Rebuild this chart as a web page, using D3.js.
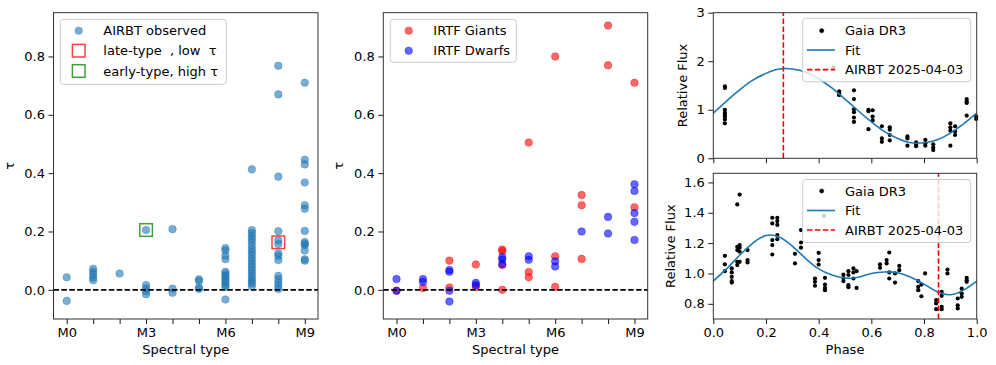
<!DOCTYPE html>
<html>
<head>
<meta charset="utf-8">
<script src="https://cdn.jsdelivr.net/npm/d3@7"></script>
<style>
  body { margin: 0; background: #fff; }
  svg { display: block; }
  text { font-family: "DejaVu Sans", sans-serif; fill: #000; }
</style>
</head>
<body>
<svg id="fig"></svg>
<script>
const W = 996, H = 365, FS = 13;

// spectral subtypes (index = subtype number)
const spTypes = ["M0", "M1", "M2", "M3", "M4", "M5", "M6", "M7", "M8", "M9"];
const spLabelled = [0, 3, 6, 9];

// AIRBT observed tau, one list per subtype
const airbtTau = [
  [0.043, -0.038],
  [0.072, 0.062, 0.052, 0.042, 0.033],
  [0.056],
  [0.205, 0.016, 0.005, -0.005, -0.015],
  [0.208, 0.004, -0.01],
  [0.036, 0.03, 0.008, 0.003],
  [0.143, 0.135, 0.117, 0.105, 0.062, 0.055, 0.047, 0.04, 0.032, 0.024, 0.016, 0.01, -0.033],
  [0.413, 0.205, 0.195, 0.185, 0.175, 0.165, 0.152, 0.14, 0.13, 0.12, 0.108, 0.098, 0.088, 0.078, 0.068, 0.058, 0.048, 0.038, 0.03, 0.022, 0.012],
  [0.768, 0.67, 0.388, 0.201, 0.17, 0.157, 0.125, 0.116, 0.102, 0.048, 0.037, 0.025, 0.013, 0.003],
  [0.71, 0.446, 0.43, 0.368, 0.29, 0.278, 0.202, 0.164, 0.158, 0.153, 0.135, 0.105, 0.1]
];
// highlighted objects [subtype, tau]
const lateLow = [8, 0.163];
const earlyHigh = [3, 0.205];

// IRTF library tau, one list per subtype
const giantsTau = [
  [-0.003], [0.006], [0.1, 0.008], [0.087, 0.01], [0.138, 0.133, 0.085, 0.0],
  [0.505, 0.061, 0.043], [0.8, 0.115, 0.01], [0.325, 0.29, 0.106], [0.906, 0.77], [0.71, 0.283]
];
const dwarfsTau = [
  [0.037, -0.003], [0.037, 0.027], [0.068, 0.062, -0.003, -0.04], [0.024, 0.016], [0.112, 0.104, 0.088],
  [0.115, 0.103], [0.098, 0.08], [0.2], [0.25, 0.193], [0.362, 0.339, 0.263, 0.233, 0.171]
];

// Gaia DR3 phase-folded light curves [phase, relative flux]
const gaiaTop = [
  [0.044, 1.48], [0.044, 1.45], [0.044, 1.0], [0.044, 0.94], [0.044, 0.9], [0.044, 0.86], [0.044, 0.8], [0.044, 0.72],
  [0.456, 1.87],
  [0.478, 1.38], [0.478, 1.33], [0.478, 1.3],
  [0.534, 1.4], [0.534, 1.22], [0.534, 1.01], [0.534, 0.95], [0.534, 0.84], [0.534, 0.75],
  [0.589, 1.0], [0.589, 0.97], [0.589, 0.6],
  [0.605, 0.99], [0.605, 0.86], [0.605, 0.78],
  [0.64, 0.66], [0.64, 0.41], [0.64, 0.34],
  [0.67, 0.64], [0.67, 0.59], [0.67, 0.48], [0.67, 0.37],
  [0.737, 0.45], [0.737, 0.41], [0.737, 0.26],
  [0.77, 0.33], [0.77, 0.29], [0.77, 0.25],
  [0.805, 0.38], [0.805, 0.31], [0.805, 0.26],
  [0.835, 0.29], [0.835, 0.22], [0.835, 0.17],
  [0.9, 0.72], [0.9, 0.64], [0.9, 0.57], [0.9, 0.26],
  [0.918, 0.66], [0.918, 0.55], [0.918, 0.48],
  [0.962, 1.22], [0.962, 1.17], [0.962, 1.14], [0.962, 0.88],
  [0.998, 0.86], [0.998, 0.81]
];
const gaiaBot = [
  [0.044, 1.116], [0.044, 1.06], [0.044, 1.015],
  [0.07, 1.033], [0.07, 1.007], [0.07, 0.978], [0.07, 0.95], [0.07, 0.94],
  [0.091, 1.455], [0.091, 1.176], [0.091, 1.154], [0.091, 1.077], [0.091, 1.055],
  [0.1, 1.52], [0.1, 1.187], [0.1, 1.17], [0.1, 1.143], [0.1, 1.077],
  [0.13, 1.154], [0.13, 1.088], [0.13, 1.073],
  [0.224, 1.367], [0.224, 1.33], [0.224, 1.22], [0.224, 1.187], [0.224, 1.125],
  [0.243, 1.367], [0.243, 1.345], [0.243, 1.32], [0.243, 1.253], [0.243, 1.226],
  [0.31, 1.13], [0.31, 1.066],
  [0.333, 1.286], [0.333, 1.204], [0.333, 1.17],
  [0.386, 0.967], [0.386, 0.945], [0.386, 0.919],
  [0.4, 1.136], [0.4, 1.088], [0.4, 1.059],
  [0.42, 1.38],
  [0.424, 0.971], [0.424, 0.927], [0.424, 0.905], [0.424, 0.89],
  [0.494, 0.993], [0.494, 0.97], [0.494, 0.95],
  [0.513, 1.015], [0.513, 0.99], [0.513, 0.923], [0.513, 0.91],
  [0.532, 1.033], [0.532, 1.007], [0.532, 0.967],
  [0.544, 1.015], [0.544, 0.905],
  [0.633, 1.06], [0.633, 1.037],
  [0.658, 1.088], [0.658, 1.066],
  [0.668, 1.138], [0.668, 1.007], [0.668, 0.967],
  [0.69, 1.0], [0.69, 0.94],
  [0.706, 1.05], [0.706, 1.022],
  [0.778, 0.95], [0.778, 0.912], [0.778, 0.89],
  [0.79, 0.927], [0.79, 0.85],
  [0.804, 1.0],
  [0.846, 0.824], [0.846, 0.802], [0.846, 0.765],
  [0.867, 0.879], [0.867, 0.853], [0.867, 0.78], [0.867, 0.765],
  [0.889, 1.026], [0.889, 1.0],
  [0.928, 0.835], [0.928, 0.79], [0.928, 0.77],
  [0.943, 0.9], [0.943, 0.868], [0.943, 0.846],
  [0.962, 0.971], [0.962, 0.956], [0.962, 0.945]
];

// fitted curves
const fitPhase = [0, 0.05, 0.1, 0.15, 0.2, 0.25, 0.3, 0.35, 0.4, 0.45, 0.5, 0.55, 0.6, 0.65, 0.7, 0.75, 0.8, 0.85, 0.9, 0.95, 1.0];
const fitTop = [0.93, 1.18, 1.41, 1.61, 1.75, 1.84, 1.84, 1.78, 1.64, 1.45, 1.22, 0.98, 0.75, 0.55, 0.41, 0.32, 0.32, 0.38, 0.52, 0.71, 0.93];
const fitBot = [0.95, 1.03, 1.12, 1.2, 1.25, 1.24, 1.18, 1.1, 1.03, 0.99, 0.97, 0.975, 1.0, 1.01, 1.005, 0.975, 0.93, 0.88, 0.86, 0.89, 0.95];
const airbtPhaseTop = 0.266, airbtPhaseBot = 0.855;
const airbtLabel = "AIRBT 2025-04-03";

const svg = d3.select("#fig").attr("width", W).attr("height", H);

// axes frame + ticks
function axes(xs, ys, o) {
  const [x0] = xs.range(), [y0] = ys.range();
  const g = svg.append("g");
  const ax = g.append("g").attr("transform", `translate(0,${y0})`)
    .call(d3.axisBottom(xs).tickValues(o.xt).tickFormat(o.xf).tickSize(5).tickPadding(3.5));
  const ay = g.append("g").attr("transform", `translate(${x0},0)`)
    .call(d3.axisLeft(ys).tickValues(o.yt).tickFormat(o.yf).tickSize(5).tickPadding(3.5));
  [ax, ay].forEach(a => {
    a.select(".domain").remove();
    a.selectAll("line").attr("stroke", "#000").attr("stroke-width", 0.9);
    a.selectAll("text").attr("font-size", FS).attr("font-family", "DejaVu Sans");
  });
  return g;
}
function spines(xs, ys) {
  const [x0, x1] = xs.range(), [y0, y1] = ys.range();
  svg.append("rect").attr("x", x0).attr("y", y1).attr("width", x1 - x0).attr("height", y0 - y1)
    .attr("fill", "none").attr("stroke", "#333").attr("stroke-width", 1);
}
function yLabel(txt, x, ys, size) {
  const [y0, y1] = ys.range();
  svg.append("text").attr("transform", `translate(${x},${(y0 + y1) / 2}) rotate(-90)`)
    .attr("text-anchor", "middle").attr("font-size", size || FS).text(txt);
}
function xLabel(txt, xs, y) {
  const [x0, x1] = xs.range();
  svg.append("text").attr("x", (x0 + x1) / 2).attr("y", y).attr("text-anchor", "middle")
    .attr("font-size", FS).text(txt);
}
function legend(x, y, w, h, rows) {
  const g = svg.append("g");
  g.append("rect").attr("x", x).attr("y", y).attr("width", w).attr("height", h).attr("rx", 3)
    .attr("fill", "#fff").attr("fill-opacity", 0.8).attr("stroke", "#ccc").attr("stroke-width", 1);
  rows.forEach(r => {
    const mx = x + r.mx, my = y + r.dy;
    if (r.type === "dot") g.append("circle").attr("cx", mx).attr("cy", my).attr("r", r.r)
      .attr("fill", r.color).attr("fill-opacity", r.op).attr("stroke", r.color).attr("stroke-opacity", r.op * 0.5);
    if (r.type === "sq") g.append("rect").attr("x", mx - 6.3).attr("y", my - 6.3).attr("width", 12.6).attr("height", 12.6)
      .attr("fill", "none").attr("stroke", r.color).attr("stroke-opacity", 0.75).attr("stroke-width", 1.5);
    if (r.type === "line" || r.type === "dash") g.append("line").attr("x1", mx - 14).attr("x2", mx + 14)
      .attr("y1", my).attr("y2", my).attr("stroke", r.color).attr("stroke-width", 1.6)
      .attr("stroke-dasharray", r.type === "dash" ? "5.5,2.4" : null);
    g.append("text").attr("x", x + r.tx).attr("y", my).attr("dy", "0.36em").attr("font-size", FS)
      .style("white-space", "pre").text(r.label);
  });
}
const flat = arr => arr.flatMap((vals, i) => vals.map(v => [i, v]));

// ---------- left and middle panels ----------
const yTau = d3.scaleLinear().domain([-0.1, 0.95]).range([319, 12.7]);
const tauTicks = [0, 0.2, 0.4, 0.6, 0.8];
const spAxis = {
  xt: d3.range(spTypes.length), xf: i => spLabelled.includes(i) ? spTypes[i] : "",
  yt: tauTicks, yf: d3.format(".1f")
};

function tauPanel(x0, x1, series, boxes) {
  const xs = d3.scaleLinear().domain([-0.5, 9.5]).range([x0, x1]);
  axes(xs, yTau, spAxis);
  series.forEach(s => {
    svg.append("g").selectAll("circle").data(flat(s.data)).join("circle")
      .attr("cx", d => xs(d[0])).attr("cy", d => yTau(d[1])).attr("r", 3.8)
      .attr("fill", s.color).attr("fill-opacity", 0.6)
      .attr("stroke", s.color).attr("stroke-opacity", 0.35).attr("stroke-width", 1);
  });
  svg.append("line").attr("x1", x0).attr("x2", x1).attr("y1", yTau(0)).attr("y2", yTau(0))
    .attr("stroke", "#000").attr("stroke-width", 1.8).attr("stroke-dasharray", "5.5,2.4");
  (boxes || []).forEach(b => {
    svg.append("rect").attr("x", xs(b.p[0]) - 6.3).attr("y", yTau(b.p[1]) - 6.3)
      .attr("width", 12.6).attr("height", 12.6).attr("fill", "none")
      .attr("stroke", b.color).attr("stroke-opacity", 0.75).attr("stroke-width", 1.5);
  });
  spines(xs, yTau);
  yLabel("τ", x0 - 40, yTau);
  xLabel("Spectral type", xs, 354);
  return xs;
}

tauPanel(53.5, 318, [{ data: airbtTau, color: "#1f77b4" }],
  [{ p: lateLow, color: "red" }, { p: earlyHigh, color: "green" }]);
legend(60.3, 19.3, 166, 65, [
  { type: "dot", color: "#1f77b4", op: 0.6, r: 3.8, mx: 18.4, tx: 43, dy: 11.4, label: "AIRBT observed" },
  { type: "sq", color: "red", mx: 18.4, tx: 43, dy: 31.4, label: "late-type  , low  τ" },
  { type: "sq", color: "green", mx: 18.4, tx: 43, dy: 51.7, label: "early-type, high τ" }
]);

tauPanel(383.3, 647.7, [{ data: giantsTau, color: "red" }, { data: dwarfsTau, color: "blue" }]);
legend(390.3, 19.3, 126, 43, [
  { type: "dot", color: "red", op: 0.6, r: 3.8, mx: 18.4, tx: 43, dy: 11.4, label: "IRTF Giants" },
  { type: "dot", color: "blue", op: 0.6, r: 3.8, mx: 18.4, tx: 43, dy: 31.4, label: "IRTF Dwarfs" }
]);

// ---------- right panels ----------
const xPh = d3.scaleLinear().domain([0, 1]).range([713.3, 976.7]);
const phTicks = [0, 0.2, 0.4, 0.6, 0.8, 1.0];

function lcPanel(ys, pts, fit, mark, yt, yf, showX) {
  axes(xPh, ys, { xt: phTicks, xf: showX ? d3.format(".1f") : () => "", yt, yf });
  svg.append("g").selectAll("circle").data(pts).join("circle")
    .attr("cx", d => xPh(d[0])).attr("cy", d => ys(d[1])).attr("r", 2.1).attr("fill", "#000");
  const line = d3.line().x((d, i) => xPh(fitPhase[i])).y(d => ys(d)).curve(d3.curveNatural);
  svg.append("path").attr("d", line(fit)).attr("fill", "none").attr("stroke", "#1f77b4").attr("stroke-width", 1.6);
  const [yb, yt2] = ys.range();
  svg.append("line").attr("x1", xPh(mark)).attr("x2", xPh(mark)).attr("y1", yb).attr("y2", yt2)
    .attr("stroke", "red").attr("stroke-width", 1.6).attr("stroke-dasharray", "5.5,2.4");
  spines(xPh, ys);
}

const yTop = d3.scaleLinear().domain([0, 3]).range([158.3, 12.7]);
lcPanel(yTop, gaiaTop, fitTop, airbtPhaseTop, [0, 1, 2, 3], d3.format("d"), false);
yLabel("Relative Flux", 686.5, yTop);
legend(802.7, 18.3, 168, 63.4, [
  { type: "dot", color: "#000", op: 1, r: 2.1, mx: 19, tx: 42.3, dy: 12.4, label: "Gaia DR3" },
  { type: "line", color: "#1f77b4", mx: 18.3, tx: 42.3, dy: 31.7, label: "Fit" },
  { type: "dash", color: "red", mx: 18.3, tx: 42.3, dy: 51.3, label: airbtLabel }
]);

const yBot = d3.scaleLinear().domain([0.7, 1.66]).range([319, 173.3]);
lcPanel(yBot, gaiaBot, fitBot, airbtPhaseBot, [0.8, 1.0, 1.2, 1.4, 1.6], d3.format(".1f"), true);
yLabel("Relative Flux", 675, yBot);
xLabel("Phase", xPh, 354);
legend(802.7, 179.5, 168, 63, [
  { type: "dot", color: "#000", op: 1, r: 2.1, mx: 19, tx: 42.3, dy: 11.5, label: "Gaia DR3" },
  { type: "line", color: "#1f77b4", mx: 18.3, tx: 42.3, dy: 31, label: "Fit" },
  { type: "dash", color: "red", mx: 18.3, tx: 42.3, dy: 50.5, label: airbtLabel }
]);
</script>
</body>
</html>
